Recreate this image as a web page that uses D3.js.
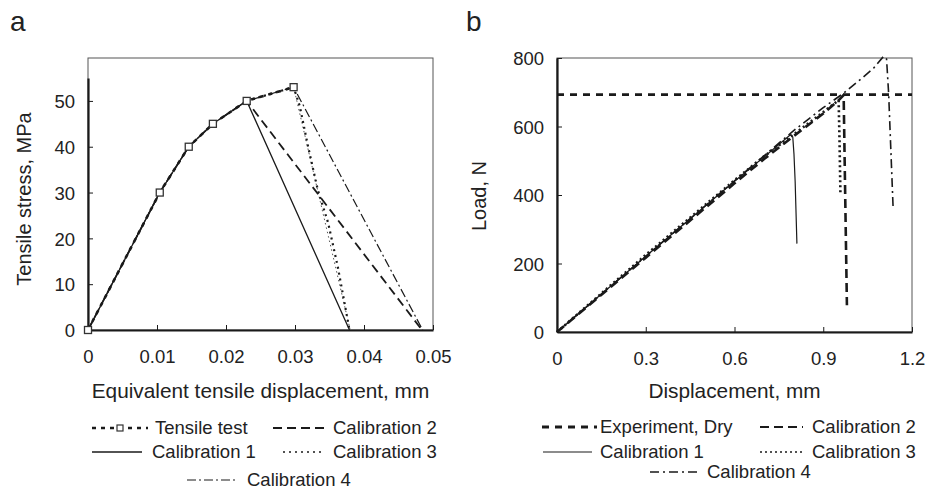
<!DOCTYPE html>
<html>
<head>
<meta charset="utf-8">
<script src="https://cdn.jsdelivr.net/npm/d3@7"></script>
<style>
  body { margin: 0; background: #fff; }
  svg { display: block; font-family: "Liberation Sans", Arial, sans-serif; }
  text { fill: #222; }
</style>
</head>
<body>
<svg id="chart" width="927" height="490"></svg>
<script>
// ---- panel a data: equivalent tensile displacement (mm) vs stress (MPa)
const tensileTest = [[0, 0], [0.0104, 30], [0.0146, 40], [0.0181, 45], [0.0230, 50], [0.0298, 53]];
const aCal1 = [[0, 0], [0.0104, 30], [0.0146, 40], [0.0181, 45], [0.0230, 50], [0.0379, 0]];
const aCal2 = [[0, 0], [0.0104, 30], [0.0146, 40], [0.0181, 45], [0.0230, 50], [0.0484, 0]];
const aCal3 = [[0.0230, 50], [0.0298, 53], [0.0307, 48.8], [0.0319, 40], [0.0333, 30.6], [0.0348, 23.4], [0.0362, 13.8], [0.0379, 0]];
const aCal3b = [[0.0298, 53], [0.0380, 0]];
const aCal4 = [[0, 0], [0.0104, 30], [0.0146, 40], [0.0181, 45], [0.0230, 50], [0.0298, 53], [0.0485, 0]];
const aXTicks = [0, 0.01, 0.02, 0.03, 0.04, 0.05];
const aXLabels = ["0", "0.01", "0.02", "0.03", "0.04", "0.05"];
const aYTicks = [0, 10, 20, 30, 40, 50];

// ---- panel b data: displacement (mm) vs load (N)
const expDry = [[0, 693], [1.2, 693]];
const bCal1 = [[0, 0], [0.3, 221], [0.6, 440], [0.7, 511], [0.789, 576], [0.797, 569], [0.801, 520], [0.805, 440], [0.811, 258]];
const bCal2 = [[0, 0], [0.3, 217], [0.6, 434], [0.7, 505], [0.8, 572], [0.9, 638], [0.95, 675], [0.969, 692], [0.972, 520], [0.976, 300], [0.980, 78]];
const bCal3 = [[0, 0], [0.3, 225], [0.6, 443], [0.7, 513], [0.8, 577], [0.9, 642], [0.952, 677], [0.955, 560], [0.958, 405]];
const bCal4 = [[0, 0], [0.3, 221], [0.6, 441], [0.8, 588], [0.9, 655], [0.97, 698], [1.025, 737], [1.07, 770], [1.104, 805], [1.114, 797], [1.118, 740], [1.121, 697], [1.136, 366]];
const bXTicks = [0, 0.3, 0.6, 0.9, 1.2];
const bXLabels = ["0", "0.3", "0.6", "0.9", "1.2"];
const bYTicks = [0, 200, 400, 600, 800];

const svg = d3.select("#chart");
const ink = "#1a1a1a";

function panel(o) {
  const g = svg.append("g");
  const x = d3.scaleLinear().domain(o.xDomain).range([o.left, o.right]);
  const y = d3.scaleLinear().domain(o.yDomain).range([o.bottom, o.axisTop]);

  // frame
  g.append("rect").attr("x", o.left).attr("y", o.frameTop)
    .attr("width", o.right - o.left).attr("height", o.bottom - o.frameTop)
    .attr("fill", "none").attr("stroke", "#555").attr("stroke-width", 1);

  // axes (ticks inward)
  const ax = g.append("g").attr("transform", `translate(0,${o.bottom})`)
    .call(d3.axisBottom(x).tickValues(o.xTicks).tickSizeInner(-5).tickSizeOuter(0)
      .tickFormat((d, i) => o.xLabels[i]));
  const ay = g.append("g").attr("transform", `translate(${o.left},0)`)
    .call(d3.axisLeft(y).tickValues(o.yTicks).tickSizeInner(-5).tickSizeOuter(0));
  [ax, ay].forEach(a => {
    a.select(".domain").attr("stroke", ink).attr("stroke-width", 2.2);
    a.selectAll(".tick line").attr("stroke", ink).attr("stroke-width", 1);
    a.selectAll(".tick text").attr("fill", "#222").style("font-size", "18.5px")
      .style("font-family", "'Liberation Sans', Arial, sans-serif");
  });
  ax.selectAll(".tick text").attr("dy", null).attr("y", 33);
  ay.selectAll(".tick text").attr("x", -13).attr("dy", "0.36em");

  const line = d3.line().x(d => x(d[0])).y(d => y(d[1]));
  o.series.forEach(s => {
    g.append("path").datum(s.data).attr("d", line)
      .attr("fill", "none").attr("stroke", s.color || ink)
      .attr("stroke-width", s.width).attr("stroke-dasharray", s.dash || null)
      .attr("stroke-linejoin", "round");
    if (s.markers) {
      g.selectAll(null).data(s.data).join("rect")
        .attr("x", d => x(d[0]) - 3.5).attr("y", d => y(d[1]) - 3.5)
        .attr("width", 7).attr("height", 7)
        .attr("fill", "#fff").attr("stroke", "#333").attr("stroke-width", 1.3);
    }
  });

  // panel letter
  g.append("text").attr("x", o.letterX).attr("y", 31).style("font-size", "28px").text(o.letter);

  // y title
  g.append("text").attr("transform", `translate(${o.yTitleX},${o.yTitleY}) rotate(-90)`)
    .attr("text-anchor", "middle").attr("dy", "0.35em").style("font-size", "20px").text(o.yTitle);

  // x title
  g.append("text").attr("x", (o.left + o.right) / 2).attr("y", 398)
    .attr("text-anchor", "middle").style("font-size", "20.8px").text(o.xTitle);

  // legend
  o.legend.forEach(l => {
    const s = l.s;
    const lg = g.append("g");
    lg.append("line").attr("x1", l.x1).attr("x2", l.x2).attr("y1", l.y).attr("y2", l.y)
      .attr("stroke", ink).attr("stroke-width", s.legendWidth || s.width)
      .attr("stroke-dasharray", s.legendDash || s.dash || null);
    if (s.markers) {
      lg.append("rect").attr("x", (l.x1 + l.x2) / 2 - 3).attr("y", l.y - 3)
        .attr("width", 6).attr("height", 6).attr("fill", "#fff").attr("stroke", "#333").attr("stroke-width", 1.2);
    }
    lg.append("text").attr("x", l.tx).attr("y", l.y).attr("dy", "0.35em")
      .style("font-size", "18.5px").text(l.label);
  });
}

// ---- panel a
const aS = {
  test: { data: tensileTest, width: 2.6, dash: "4,5", markers: true },
  c1: { data: aCal1, width: 1.3 },
  c2: { data: aCal2, width: 1.8, dash: "9,5" },
  c3: { data: aCal3, width: 2.2, dash: "2,4", legendWidth: 1.3 },
  c3b: { data: aCal3b, width: 1, dash: "1.5,3", color: "#555" },
  c4: { data: aCal4, width: 1.2, dash: "9,3,2,3" }
};
panel({
  letter: "a", letterX: 10,
  xDomain: [0, 0.05], yDomain: [0, 55],
  left: 88, right: 433, bottom: 330, axisTop: 78, frameTop: 58,
  xTicks: aXTicks, xLabels: aXLabels, yTicks: aYTicks,
  yTitle: "Tensile stress, MPa", yTitleX: 24, yTitleY: 199,
  xTitle: "Equivalent tensile displacement, mm",
  series: [aS.c4, aS.c3b, aS.c3, aS.c2, aS.c1, aS.test],
  legend: [
    { s: aS.test, x1: 92, x2: 148, y: 428, tx: 155, label: "Tensile test" },
    { s: aS.c2, x1: 273, x2: 325, y: 428, tx: 333, label: "Calibration 2" },
    { s: aS.c1, x1: 92, x2: 142, y: 452, tx: 152, label: "Calibration 1" },
    { s: aS.c3, x1: 283, x2: 325, y: 452, tx: 333, label: "Calibration 3" },
    { s: aS.c4, x1: 187, x2: 237, y: 480, tx: 247, label: "Calibration 4" }
  ]
});

// ---- panel b
const bS = {
  exp: { data: expDry, width: 2.8, dash: "7,6" },
  c1: { data: bCal1, width: 1.2 },
  c2: { data: bCal2, width: 2.6, dash: "9,5", legendWidth: 2.2 },
  c3: { data: bCal3, width: 2.6, dash: "2,3", legendWidth: 1.3 },
  c4: { data: bCal4, width: 1.6, dash: "9,4,2,4" }
};
panel({
  letter: "b", letterX: 466,
  xDomain: [0, 1.2], yDomain: [0, 800],
  left: 557, right: 912, bottom: 332, axisTop: 58, frameTop: 58,
  xTicks: bXTicks, xLabels: bXLabels, yTicks: bYTicks,
  yTitle: "Load, N", yTitleX: 479, yTitleY: 196,
  xTitle: "Displacement, mm",
  series: [bS.c4, bS.c3, bS.c2, bS.c1, bS.exp],
  legend: [
    { s: bS.exp, x1: 542, x2: 597, y: 427, tx: 600, label: "Experiment, Dry" },
    { s: bS.c2, x1: 760, x2: 803, y: 427, tx: 812, label: "Calibration 2" },
    { s: bS.c1, x1: 543, x2: 592, y: 452, tx: 600, label: "Calibration 1" },
    { s: bS.c3, x1: 760, x2: 803, y: 452, tx: 812, label: "Calibration 3" },
    { s: bS.c4, x1: 650, x2: 697, y: 472, tx: 707, label: "Calibration 4" }
  ]
});
</script>
</body>
</html>
